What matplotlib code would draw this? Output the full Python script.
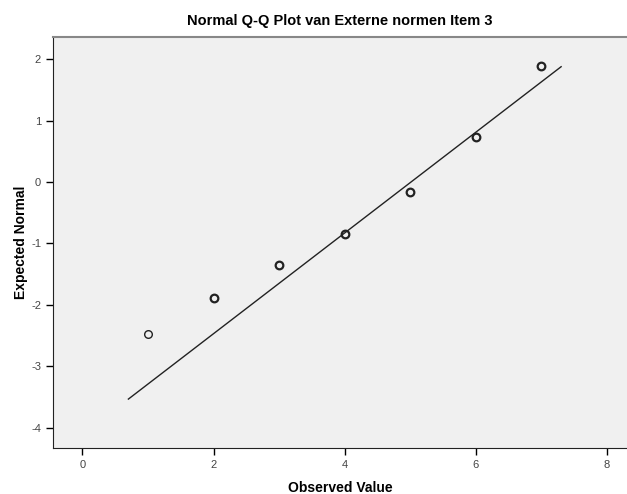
import numpy as np
import matplotlib.pyplot as plt

plt.rcParams['font.family'] = ['Liberation Sans', 'DejaVu Sans']
plt.rcParams['axes.unicode_minus'] = False

# observed values and expected normal quantiles
observed = [1, 2, 3, 4, 5, 6, 7]
expected = [-2.47, -1.89, -1.35, -0.85, -0.17, 0.74, 1.89]
# how many cases overlap at each point (drawn with a heavier edge)
counts = [1, 2, 3, 4, 5, 3, 2]

# reference line: mean and sd of the observed data
mean_val = 5.01
sd_val = 1.22
line_x = [0.7, 7.3]

xticks = [0, 2, 4, 6, 8]
yticks = [-4, -3, -2, -1, 0, 1, 2]


def main():
    fig = plt.figure(figsize=(6.27, 4.94), dpi=100)
    ax = fig.add_axes([0.0845, 0.093, 0.915, 0.832])
    ax.set_facecolor('#f0f0f0')

    lx = np.array(line_x)
    ax.plot(lx, (lx - mean_val) / sd_val, color='#222222', lw=1.0)

    for x, y, c in zip(observed, expected, counts):
        lw = 1.0 if c == 1 else 1.6
        ax.plot(x, y, 'o', ms=5.5, mfc='none', mec='#222222', mew=lw)

    ax.set_xlim(-0.45, 8.3)
    ax.set_ylim(-4.33, 2.36)
    ax.set_xticks(xticks)
    ax.set_yticks(yticks)
    ax.tick_params(labelsize=8, labelcolor='#444444', length=5, width=1)

    for s in ['left', 'bottom']:
        ax.spines[s].set_color('#222222')
    ax.spines['top'].set_color('#888888')
    ax.spines['top'].set_linewidth(1.5)
    ax.spines['right'].set_visible(False)

    ax.set_title('Normal Q-Q Plot van Externe normen Item 3', fontsize=10.5,
                 fontweight='bold', pad=9)
    ax.set_xlabel('Observed Value', fontsize=10, fontweight='bold', labelpad=8)
    ax.set_ylabel('Expected Normal', fontsize=10, fontweight='bold', labelpad=2)

    fig.savefig('out.png', dpi=100)


if __name__ == "__main__":
    main()
